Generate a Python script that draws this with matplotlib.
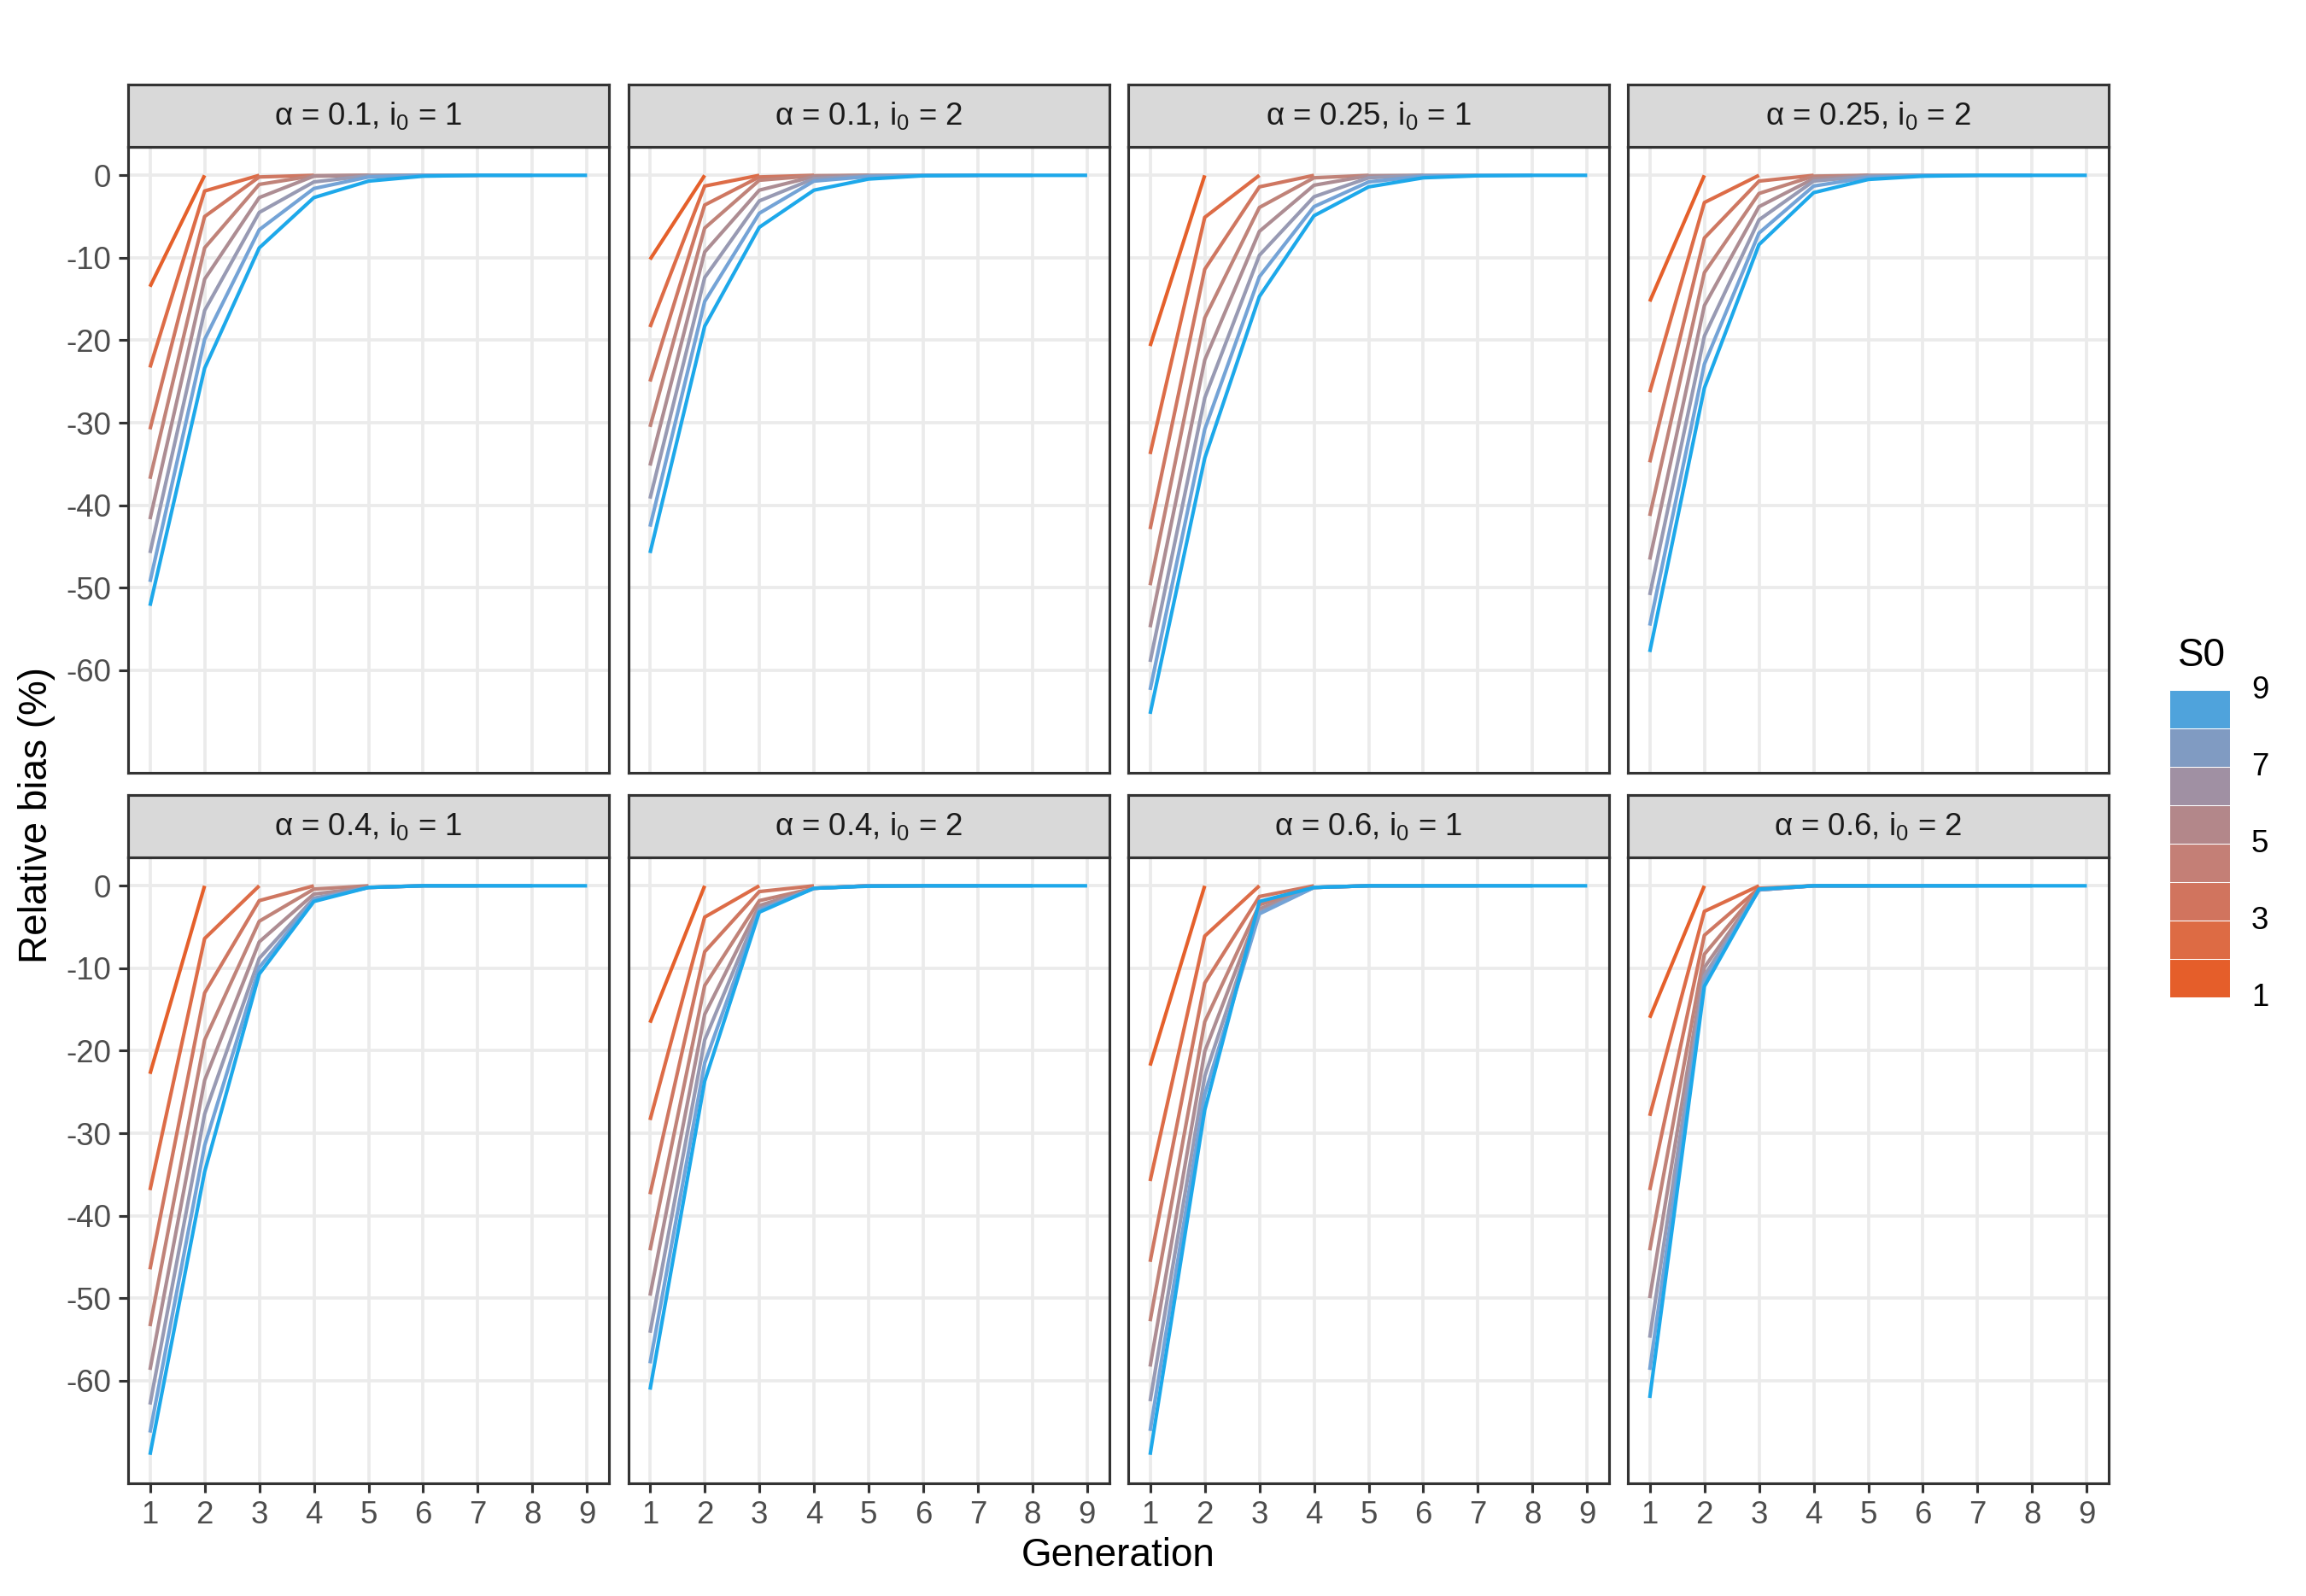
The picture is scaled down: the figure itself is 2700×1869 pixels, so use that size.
import numpy as np
import matplotlib
matplotlib.use("Agg")
import matplotlib.pyplot as plt
from matplotlib.patches import Rectangle

plt.rcParams['font.family'] = ['Liberation Sans', 'DejaVu Sans']
plt.rcParams['mathtext.fontset'] = 'custom'
plt.rcParams['mathtext.rm'] = 'Liberation Sans'
plt.rcParams['mathtext.it'] = 'Liberation Sans:italic'

# ---- data (relative bias %, one list per S0 line, starting at generation 1)
generations = list(range(1, 10))
s0_levels = [1, 2, 3, 4, 5, 6, 7, 8]

panel_titles = [
    r"α = 0.1, i$_0$ = 1", r"α = 0.1, i$_0$ = 2",
    r"α = 0.25, i$_0$ = 1", r"α = 0.25, i$_0$ = 2",
    r"α = 0.4, i$_0$ = 1", r"α = 0.4, i$_0$ = 2",
    r"α = 0.6, i$_0$ = 1", r"α = 0.6, i$_0$ = 2",
]

bias_a01_i1 = [
    [-13.5, 0],
    [-23.3, -1.9, 0],
    [-30.8, -5.0, -0.2, 0],
    [-36.8, -8.8, -1.1, -0.05, 0],
    [-41.7, -12.6, -2.7, -0.1, 0, 0],
    [-45.8, -16.4, -4.5, -0.8, -0.05, 0, 0],
    [-49.3, -19.9, -6.6, -1.6, -0.2, 0, 0, 0],
    [-52.2, -23.4, -8.8, -2.7, -0.7, -0.1, 0, 0, 0],
]
bias_a01_i2 = [
    [-10.2, 0],
    [-18.4, -1.3, 0],
    [-25.0, -3.6, -0.2, 0],
    [-30.5, -6.4, -0.6, -0.05, 0],
    [-35.2, -9.3, -1.8, -0.15, 0, 0],
    [-39.2, -12.4, -3.1, -0.4, -0.05, 0, 0],
    [-42.6, -15.3, -4.6, -0.7, -0.15, 0, 0, 0],
    [-45.8, -18.3, -6.3, -1.8, -0.45, -0.05, 0, 0, 0],
]
bias_a025_i1 = [
    [-20.7, 0],
    [-33.8, -5.1, 0],
    [-42.9, -11.4, -1.4, 0],
    [-49.7, -17.3, -3.9, -0.3, 0],
    [-54.8, -22.4, -6.8, -1.2, -0.05, 0],
    [-59.0, -27.0, -9.7, -2.6, -0.3, 0, 0],
    [-62.4, -30.8, -12.3, -3.8, -0.8, -0.1, 0, 0],
    [-65.3, -34.3, -14.7, -4.9, -1.4, -0.3, -0.05, 0, 0],
]
bias_a025_i2 = [
    [-15.3, 0],
    [-26.3, -3.3, 0],
    [-34.8, -7.6, -0.7, 0],
    [-41.3, -11.8, -2.2, -0.1, 0],
    [-46.6, -15.8, -3.8, -0.4, 0, 0],
    [-50.9, -19.5, -5.4, -0.7, -0.1, 0, 0],
    [-54.6, -22.9, -7.0, -1.3, -0.25, 0, 0, 0],
    [-57.8, -25.8, -8.4, -2.1, -0.5, -0.1, 0, 0, 0],
]
bias_a04_i1 = [
    [-22.8, 0],
    [-36.9, -6.4, 0],
    [-46.5, -13.0, -1.8, 0],
    [-53.4, -18.7, -4.3, -0.4, 0],
    [-58.7, -23.6, -6.8, -1.0, -0.2, 0],
    [-62.9, -27.7, -8.8, -1.5, -0.2, 0, 0],
    [-66.3, -31.5, -9.9, -1.7, -0.2, 0, 0, 0],
    [-69.0, -34.7, -10.7, -1.9, -0.2, 0, 0, 0, 0],
]
bias_a04_i2 = [
    [-16.6, 0],
    [-28.4, -3.8, 0],
    [-37.4, -8.0, -0.7, 0],
    [-44.2, -12.1, -1.8, -0.3, 0],
    [-49.7, -15.6, -2.4, -0.3, 0, 0],
    [-54.2, -18.7, -2.8, -0.3, 0, 0, 0],
    [-57.9, -21.5, -3.0, -0.3, 0, 0, 0, 0],
    [-61.1, -23.7, -3.2, -0.3, -0.05, 0, 0, 0, 0],
]
bias_a06_i1 = [
    [-21.8, 0],
    [-35.8, -6.1, 0],
    [-45.6, -11.8, -1.3, 0],
    [-52.8, -16.5, -2.3, -0.2, 0],
    [-58.3, -20.1, -2.8, -0.2, 0, 0],
    [-62.5, -23.1, -3.2, -0.2, 0, 0, 0],
    [-66.1, -25.3, -3.4, -0.2, 0, 0, 0, 0],
    [-69.0, -27.2, -1.9, -0.2, 0, 0, 0, 0, 0],
]
bias_a06_i2 = [
    [-16.0, 0],
    [-27.9, -3.1, 0],
    [-36.9, -6.0, -0.3, 0],
    [-44.2, -8.3, -0.4, 0, 0],
    [-50.0, -9.9, -0.5, 0, 0, 0],
    [-54.8, -10.9, -0.5, 0, 0, 0, 0],
    [-58.7, -11.6, -0.5, 0, 0, 0, 0, 0],
    [-62.1, -12.2, -0.4, 0, 0, 0, 0, 0, 0],
]

panels = [bias_a01_i1, bias_a01_i2, bias_a025_i1, bias_a025_i2,
          bias_a04_i1, bias_a04_i2, bias_a06_i1, bias_a06_i2]

y_ticks = [0, -10, -20, -30, -40, -50, -60]
legend_labels = ["1", "3", "5", "7", "9"]

# ---- style
line_colors = ['#E5602B', '#DD6C47', '#CF7761', '#C08379',
               '#AD8D93', '#989AB3', '#74A3D6', '#1DA8EA']
legend_colors = ['#E55E2A', '#DD6B44', '#D1745E', '#C47F76',
                 '#B3878A', '#A090A3', '#809BC2', '#4FA3DC']

W, H = 2700, 1869
fig = plt.figure(figsize=(W / 300, H / 300), dpi=300)

col_left = [150, 735.5, 1321, 1906]
pw = 563
row_top = [172, 1004]
ph = 733
sh = 73

def fx(px):
    return px / W

def fy(py):
    return 1 - py / H

for k, data in enumerate(panels):
    r, c = divmod(k, 4)
    left = col_left[c]
    top = row_top[r]
    ax = fig.add_axes([fx(left), fy(top + ph), fx(pw), ph / H])
    for j, vals in enumerate(data):
        ax.plot(generations[:len(vals)], vals, color=line_colors[j],
                lw=1.0, solid_capstyle='butt', zorder=3)
    ax.set_xlim(0.6, 9.4)
    ax.set_ylim(-72.45, 3.45)
    ax.set_xticks(generations)
    ax.set_yticks(y_ticks)
    ax.grid(True, color='#EBEBEB', lw=0.9, zorder=0)
    ax.set_axisbelow(True)
    for sp in ax.spines.values():
        sp.set_color('#333333')
        sp.set_linewidth(0.75)
    ax.tick_params(length=2.75, width=0.75, color='#333333',
                   labelsize=8.8, labelcolor='#4D4D4D', pad=2)
    if c != 0:
        ax.tick_params(axis='y', left=False, labelleft=False)
    else:
        ax.set_yticklabels([str(v) for v in y_ticks])
    if r == 0:
        ax.tick_params(axis='x', bottom=False, labelbottom=False)

    # strip
    sax = fig.add_axes([fx(left), fy(top), fx(pw), sh / H])
    sax.set_xticks([])
    sax.set_yticks([])
    sax.set_facecolor('#D9D9D9')
    for sp in sax.spines.values():
        sp.set_color('#333333')
        sp.set_linewidth(0.75)
    sax.text(0.5, 0.5, panel_titles[k], ha='center', va='center',
             fontsize=8.8, color='#1A1A1A', transform=sax.transAxes)

fig.text(fx(43), fy(955), "Relative bias (%)", rotation=90,
         ha='center', va='center', fontsize=11, color='black')
fig.text(fx(1309), fy(1822), "Generation", ha='center', va='center',
         fontsize=11, color='black')

# legend (binned colour bar)
lax = fig.add_axes([fx(2540), fy(1168), fx(71), (1168 - 808) / H])
for i, col in enumerate(legend_colors):
    lax.add_patch(Rectangle((0, i + 1), 1, 1, facecolor=col,
                            edgecolor='white', lw=0.25, alpha=1))
lax.set_xlim(0, 1)
lax.set_ylim(1, 9)
lax.axis('off')
for lab in legend_labels:
    v = int(lab)
    lax.text(1.35, v, lab, ha='left', va='center', fontsize=8.8,
             color='black', transform=lax.transData)
fig.text(fx(2578), fy(768), "S0", ha='center', va='center', fontsize=11)

fig.savefig("out.png", dpi=300)
